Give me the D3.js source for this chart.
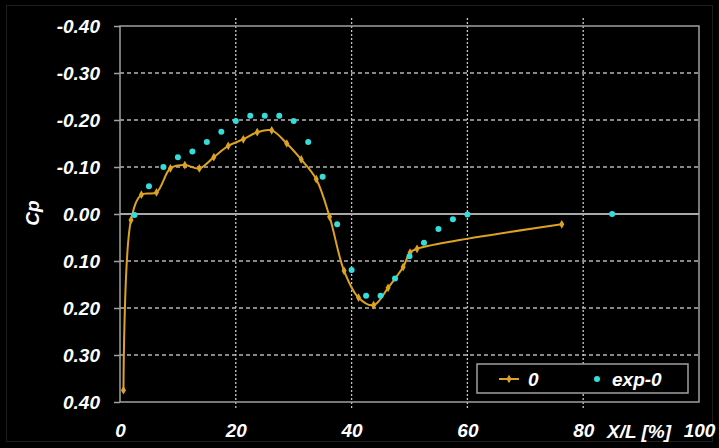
<!DOCTYPE html>
<html lang="en">
<head>
    <meta charset="UTF-8">
    <title>Cp distribution</title>
    <script src="https://d3js.org/d3.v7.min.js"></script>
    <style>
        body { margin: 0px; background: #000; }
        text { font-family: "Liberation Sans", Arial, sans-serif; font-weight: bold; font-style: italic; fill: #fff; }
    </style>
</head>
<body>
<script>
    // computed curve "0"
    var simX = [0.6, 1.9, 3.7, 6.3, 8.7, 11.2, 13.7, 16.2, 18.7, 21.3, 23.7, 26.2, 28.8, 31.3,
        33.9, 36.2, 38.7, 41.2, 43.8, 46.3, 48.9, 50.1, 51.3, 76.3];
    var simCp = [0.375, 0.013, -0.041, -0.046, -0.097, -0.104, -0.097, -0.121, -0.145, -0.159, -0.174,
        -0.178, -0.150, -0.116, -0.074, 0.006, 0.121, 0.178, 0.194, 0.157, 0.113, 0.082, 0.074, 0.022];
    // experiment "exp-0"
    var expX = [2.5, 5, 7.5, 10, 12.5, 15, 17.5, 20, 22.5, 25, 27.5, 30, 32.5, 35, 37.5, 40,
        42.5, 45, 47.5, 50, 52.5, 55, 57.5, 60, 85];
    var expCp = [0.002, -0.059, -0.100, -0.121, -0.133, -0.153, -0.175, -0.198, -0.209, -0.209, -0.209,
        -0.198, -0.153, -0.079, 0.022, 0.119, 0.174, 0.174, 0.137, 0.090, 0.061, 0.032, 0.011, 0.001, 0.000];
    var yTicks = [-0.4, -0.3, -0.2, -0.1, 0, 0.1, 0.2, 0.3, 0.4];
    var yTickLabels = ['-0.40', '-0.30', '-0.20', '-0.10', '0.00', '0.10', '0.20', '0.30', '0.40'];
    var xTicks = [0, 20, 40, 60, 80, 100];
    var seriesNames = ['0', 'exp-0'];

    var width = 719, height = 448;
    var gold = '#dca322', cyan = '#35dcdc';

    var svg = d3.select('body').append('svg')
        .attr('width', width)
        .attr('height', height)
        .style('display', 'block');

    svg.append('rect').attr('x', 6.5).attr('y', 5.5).attr('width', 706).attr('height', 436)
        .attr('fill', '#000').attr('stroke', '#1e1e1e');

    var x = d3.scaleLinear().domain([0, 100]).range([120, 699]);
    var y = d3.scaleLinear().domain([-0.4, 0.4]).range([26, 402]);

    // grid
    svg.append('g').selectAll('line')
        .data(yTicks.filter(function (d) { return d !== 0 && Math.abs(d) < 0.4; }))
        .enter().append('line')
        .attr('x1', x(0)).attr('x2', x(100))
        .attr('y1', function (d) { return y(d); }).attr('y2', function (d) { return y(d); })
        .attr('stroke', '#b5b5b5').attr('stroke-width', 1.3).attr('stroke-dasharray', '4,3');
    svg.append('g').selectAll('line')
        .data(xTicks.filter(function (d) { return d > 0 && d < 100; }))
        .enter().append('line')
        .attr('x1', function (d) { return x(d); }).attr('x2', function (d) { return x(d); })
        .attr('y1', y(-0.4) - 8).attr('y2', y(0.4) + 6)
        .attr('stroke', '#c8c8c8').attr('stroke-width', 1.3).attr('stroke-dasharray', '2,2');

    // frame
    svg.append('rect').attr('x', x(0)).attr('y', y(-0.4))
        .attr('width', x(100) - x(0)).attr('height', y(0.4) - y(-0.4))
        .attr('fill', 'none').attr('stroke', '#a0a0a0').attr('stroke-width', 1.5);
    svg.append('line').attr('x1', x(0)).attr('x2', x(100)).attr('y1', y(0)).attr('y2', y(0))
        .attr('stroke', '#a8a8a8').attr('stroke-width', 2);

    // y axis
    var yAxis = d3.axisLeft(y).tickValues(yTicks)
        .tickFormat(function (d, i) { return yTickLabels[i]; })
        .tickSize(6).tickPadding(14);
    var gy = svg.append('g').attr('transform', 'translate(' + x(0) + ',0)').call(yAxis);
    gy.select('.domain').remove();
    gy.selectAll('line').attr('stroke', '#a0a0a0').attr('stroke-width', 1.5);
    gy.selectAll('text').style('font-size', '19px');

    // x axis
    var xAxis = d3.axisBottom(x).tickValues(xTicks).tickSize(0).tickPadding(22);
    var gx = svg.append('g').attr('transform', 'translate(0,' + y(0.4) + ')').call(xAxis);
    gx.select('.domain').remove();
    gx.selectAll('text').style('font-size', '19px');

    svg.append('text').attr('x', 639).attr('y', 438).attr('text-anchor', 'middle')
        .style('font-size', '19px').text('X/L [%]');
    svg.append('text').attr('transform', 'translate(39,213) rotate(-90)')
        .attr('text-anchor', 'middle').style('font-size', '19px').text('Cp');

    // computed line
    var simData = simX.map(function (d, i) { return [d, simCp[i]]; });
    var line = d3.line()
        .x(function (d) { return x(d[0]); })
        .y(function (d) { return y(d[1]); })
        .curve(d3.curveCatmullRom.alpha(0.5));
    svg.append('path').datum(simData).attr('d', line)
        .attr('fill', 'none').attr('stroke', gold).attr('stroke-width', 2);
    svg.append('g').selectAll('path').data(simData).enter().append('path')
        .attr('d', d3.symbol().type(d3.symbolDiamond).size(22))
        .attr('transform', function (d) { return 'translate(' + x(d[0]) + ',' + y(d[1]) + ')'; })
        .attr('fill', gold);

    // experiment points
    var expData = expX.map(function (d, i) { return [d, expCp[i]]; });
    svg.append('g').selectAll('circle').data(expData).enter().append('circle')
        .attr('cx', function (d) { return x(d[0]); })
        .attr('cy', function (d) { return y(d[1]); })
        .attr('r', 3)
        .attr('fill', cyan);

    // legend
    var lg = svg.append('g');
    lg.append('rect').attr('x', 477).attr('y', 364).attr('width', 211).attr('height', 29)
        .attr('fill', '#000').attr('stroke', '#a0a0a0').attr('stroke-width', 1.5);
    lg.append('line').attr('x1', 499).attr('x2', 519).attr('y1', 379).attr('y2', 379)
        .attr('stroke', gold).attr('stroke-width', 2);
    lg.append('path').attr('d', d3.symbol().type(d3.symbolDiamond).size(22))
        .attr('transform', 'translate(509,379)').attr('fill', gold);
    lg.append('text').attr('x', 528).attr('y', 386).style('font-size', '19px').text(seriesNames[0]);
    lg.append('circle').attr('cx', 597).attr('cy', 379).attr('r', 3).attr('fill', cyan);
    lg.append('text').attr('x', 612).attr('y', 386).style('font-size', '19px').text(seriesNames[1]);
</script>
</body>
</html>
